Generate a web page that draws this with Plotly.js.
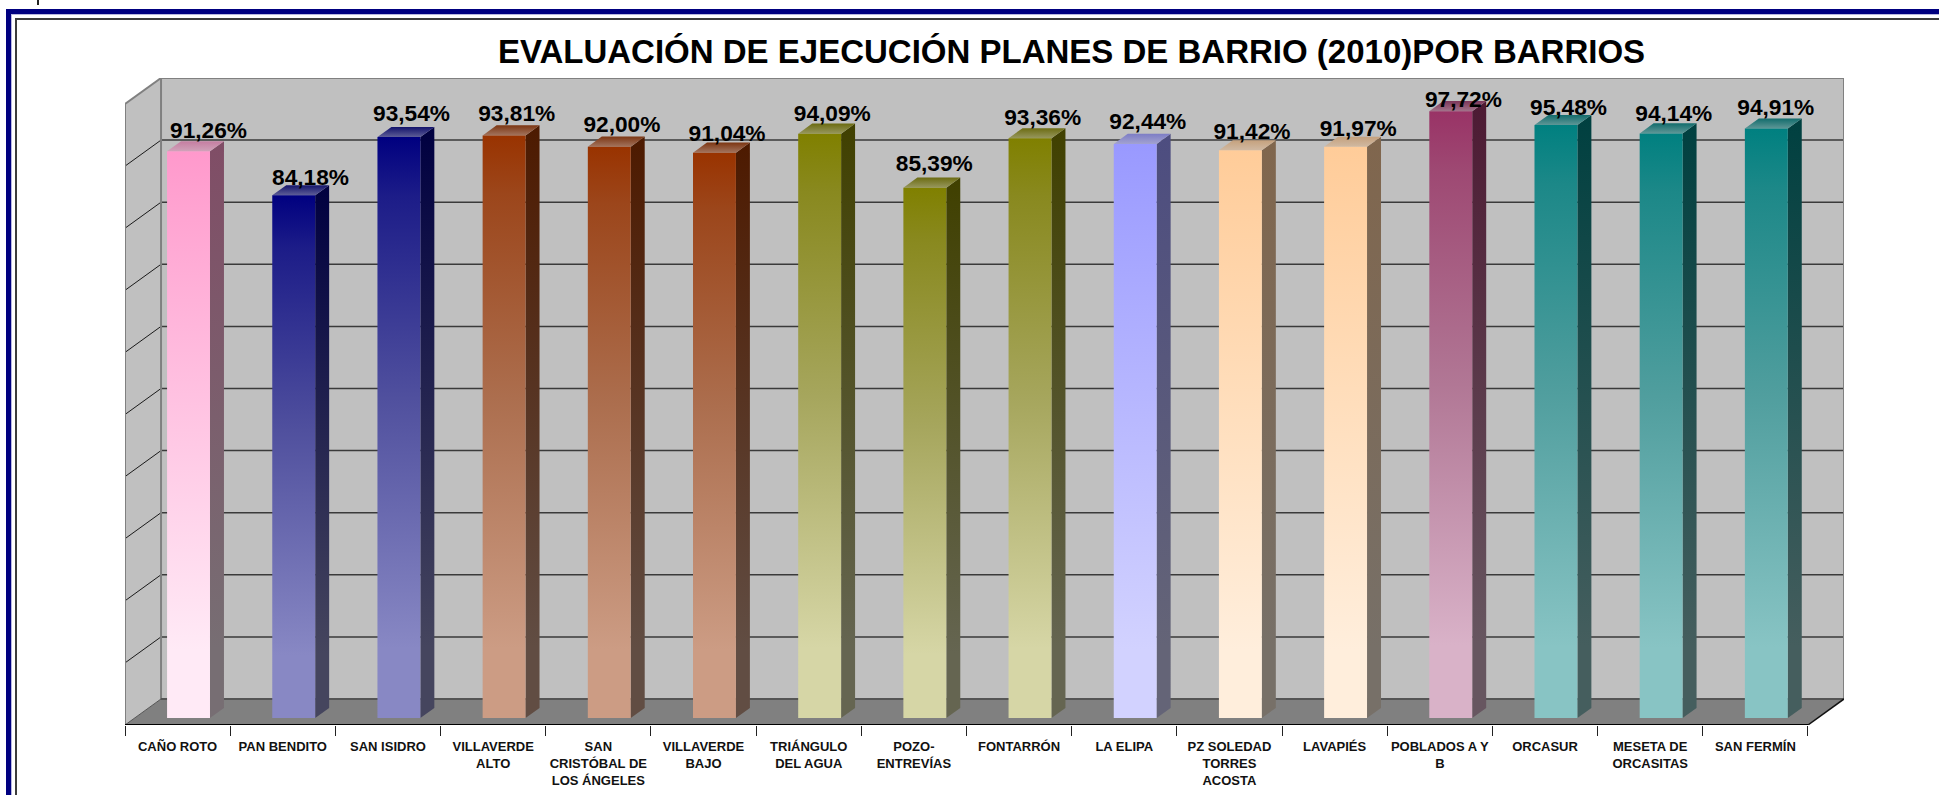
<!DOCTYPE html>
<html><head><meta charset="utf-8">
<script src="https://cdn.plot.ly/plotly-3.0.1.min.js"></script>
<style>html,body{margin:0;padding:0;background:#fff;overflow:hidden}</style>
</head><body><div id="chart" style="width:1939px;height:795px"></div>
<script>
const chartTitle = 'EVALUACIÓN DE EJECUCIÓN PLANES DE BARRIO (2010)POR BARRIOS';
const categories = ['CAÑO ROTO','PAN BENDITO','SAN ISIDRO','VILLAVERDE<br>ALTO','SAN<br>CRISTÓBAL DE<br>LOS ÁNGELES','VILLAVERDE<br>BAJO','TRIÁNGULO<br>DEL AGUA','POZO-<br>ENTREVÍAS','FONTARRÓN','LA ELIPA','PZ SOLEDAD<br>TORRES<br>ACOSTA','LAVAPIÉS','POBLADOS A Y<br>B','ORCASUR','MESETA DE<br>ORCASITAS','SAN FERMÍN'];
const values = [91.26,84.18,93.54,93.81,92.00,91.04,94.09,85.39,93.36,92.44,91.42,91.97,97.72,95.48,94.14,94.91];
const topColors = ['#ff99cc','#000080','#000080','#993300','#993300','#993300','#808000','#808000','#808000','#9999ff','#ffcc99','#ffcc99','#993366','#008080','#008080','#008080'];
const bottomColors = ['#ffeaf6','#8888c4','#8888c4','#cc9c84','#cc9c84','#cc9c84','#d6d6a6','#d6d6a6','#d6d6a6','#d2d2ff','#ffeedc','#ffeedc','#d9b2c8','#88c4c4','#88c4c4','#88c4c4'];
const gridValues = [0,10,20,30,40,50,60,70,80,90,100];
// small manual label placement, as in the original where labels sit unevenly
const labelLift = [3.1,2.5,3.45,3.2,3.25,2.8,2.95,3.55,3.1,3.4,2.65,2.7,1.55,2.55,2.9,3.15];
const labelDrift = [0.12,0.09,0.05,0.05,0.05,0.05,0.05,0.02,0.05,0.05,0.04,0.05,0.05,0.05,0.05,0.02];

// oblique projection: depth d runs 0 (front of floor) to 1 (back wall)
const DX = 0.3425, DY = 4.19, D0 = 0.27, DB = 0.388, BARX = 0.40, BARW = 0.408, N = categories.length;

function hex(c){return [1,3,5].map(i=>parseInt(c.substr(i,2),16));}
function rgb(a){return 'rgb('+a.map(v=>Math.round(v)).join(',')+')';}
function mix(c,g,t){const a=hex(c);return rgb(a.map((v,i)=>v*(1-t)+g[i]*t));}
function blend(c1,c2,t,grey){const a=hex(c1),b=hex(c2);return rgb(a.map((v,i)=>(v*(1-t)+b[i]*t)*(1-grey)+130*grey));}

const traces = [];
function poly(pts, fill, scale){
  const t={type:'scatter',mode:'lines',x:pts.map(p=>p[0]),y:pts.map(p=>p[1]),fill:'toself',line:{width:0},hoverinfo:'skip',showlegend:false,cliponaxis:false};
  if(scale){t.fillgradient={type:'vertical',colorscale:scale};t.fillcolor=scale[scale.length-1][1];}
  else t.fillcolor=fill;
  traces.push(t);
}
function seg(list,color,width){
  const x=[],y=[];
  list.forEach(s=>{x.push(s[0][0],s[1][0],null);y.push(s[0][1],s[1][1],null);});
  traces.push({type:'scatter',mode:'lines',x,y,line:{color,width},hoverinfo:'skip',showlegend:false,cliponaxis:false,connectgaps:false});
}
const wall = (x,v,d)=>[x+DX*d, v+DY*(d-D0)];

// walls and floor
poly([wall(0,0,1),wall(N,0,1),wall(N,100,1),wall(0,100,1),wall(0,0,1)],'#c0c0c0');
poly([wall(0,0,0),wall(0,0,1),wall(0,100,1),wall(0,100,0),wall(0,0,0)],'#c0c0c0');
poly([wall(0,0,0),wall(N,0,0),wall(N,0,1),wall(0,0,1),wall(0,0,0)],'#808080');
// gridlines
const inner = gridValues.slice(1,-1);
seg(inner.map(v=>[wall(0,v,1),wall(N,v,1)]),'#3a3a3a',1.5);
seg(inner.map(v=>[wall(0,v,0),wall(0,v,1)]),'#1a1a1a',1);
// wall edges
seg([[wall(0,100,1),wall(N,100,1)],[wall(N,100,1),wall(N,0,1)],[wall(0,100,0),wall(0,100,1)],[wall(0,0,1),wall(0,100,1)],[wall(0,0,0),wall(0,100,0)]],'#808080',2);
seg([[wall(0,0,1),wall(N,0,1)]],'#555555',2);
seg([[wall(0,0,0),wall(0,0,1)]],'#555555',1);
seg([[wall(N,0,0),wall(N,0,1)]],'#111111',1.5);
seg([[wall(0,0,0),wall(N,0,0)]],'#000000',2);

// 3-D columns
values.forEach((v,i)=>{
  const L=i+BARX, R=L+BARW, dx=DX*DB, dy=DY*DB;
  const c=topColors[i], b=bottomColors[i];
  const pale=Math.max(...hex(c))===255;
  const sb=mix(b,[20,20,20],0.58), sc=mix(c,[0,0,0],0.5);
  poly([[R,0],[R+dx,dy],[R+dx,v+dy],[R,v],[R,0]],null,[[0,sb],[0.12,sb],[1,sc]]);
  poly([[L,v],[R,v],[R+dx,v+dy],[L+dx,v+dy],[L,v]],null,[[0,mix(c,[170,170,170],0.55)],[1,mix(c,[60,60,60],0.3)]]);
  poly([[L,0],[R,0],[R,v],[L,v],[L,0]],null,[[0,b],[0.12,b],[0.55,blend(b,c,0.48,pale?0:0.16)],[0.9,blend(b,c,0.88,pale?0:0.1)],[1,c]]);
});

// value labels
traces.push({type:'scatter',mode:'text',
  x:values.map((v,i)=>i+BARX+BARW/2+0.07+labelDrift[i]),
  y:values.map((v,i)=>v+labelLift[i]),
  text:values.map(v=>v.toFixed(2).replace('.',',')+'%'),
  textposition:'middle center',
  textfont:{family:'Liberation Sans, Arial, sans-serif',size:22.7,color:'#000',weight:'bold'},
  hoverinfo:'skip',showlegend:false,cliponaxis:false});

const W=1939,H=795,ML=125,MR=95,MT=78,MB=70,PW=W-ML-MR,PH=H-MT-MB;
const fx=p=>(p-ML)/PW, fy=p=>1-(p-MT)/PH;
const rect=(x0,y0,x1,y1,c)=>({type:'rect',xref:'paper',yref:'paper',x0:fx(x0),x1:fx(x1),y0:fy(y0),y1:fy(y1),fillcolor:c,line:{width:0},layer:'below'});

const layout={
  width:W,height:H,margin:{l:ML,r:MR,t:MT,b:MB,pad:0},
  paper_bgcolor:'#fff',plot_bgcolor:'rgba(0,0,0,0)',showlegend:false,hovermode:false,
  title:{text:chartTitle,x:(1071.5-ML)/PW,xanchor:'center',xref:'paper',y:1-51/H,yanchor:'middle',yref:'container',
    font:{family:'Liberation Sans, Arial, sans-serif',size:33,color:'#000',weight:'bold'},automargin:false},
  xaxis:{range:[0,N+DX],showgrid:false,zeroline:false,showline:false,fixedrange:true,automargin:false,
    tickmode:'array',tickvals:categories.map((c,i)=>i+0.5),ticktext:categories,ticks:'',ticklabelstandoff:12,
    tickangle:0,
    tickfont:{family:'Liberation Sans, Arial, sans-serif',size:13,color:'#111',weight:'bold'},
    minor:{tickmode:'array',tickvals:Array.from({length:N+1},(_, i)=>i),ticks:'outside',ticklen:10,tickwidth:1,tickcolor:'#222',showgrid:false}},
  yaxis:{range:[-DY*D0,100+DY*(1-D0)],visible:false,fixedrange:true,automargin:false},
  shapes:[
    rect(6,9,W+5,14,'#000080'),rect(6,9,11,H+5,'#000080'),
    rect(11,14,W+5,15,'#b8b8e0'),rect(11,14,12,H+5,'#b8b8e0'),
    rect(15,18,W+5,20,'#3c3c3c'),rect(15,18,17,H+5,'#3c3c3c'),
    rect(37,0,39,5,'#222222')
  ]
};
Plotly.newPlot('chart',traces,layout,{displayModeBar:false,staticPlot:true});
</script></body></html>
